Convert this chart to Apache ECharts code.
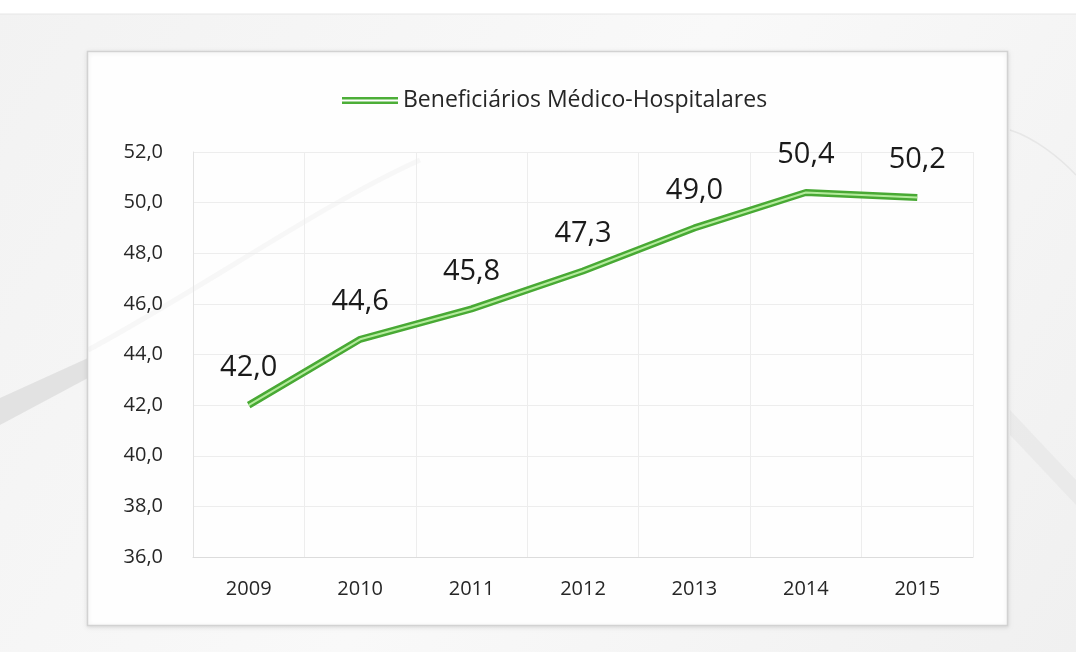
<!DOCTYPE html>
<html>
<head>
<meta charset="utf-8">
<title>Beneficiários Médico-Hospitalares</title>
<script src="https://cdn.jsdelivr.net/npm/echarts@6/dist/echarts.min.js"></script>
<style>
  html, body { margin: 0; padding: 0; background: #f4f4f4; }
  #chart { width: 1076px; height: 652px; }
</style>
</head>
<body>
<div id="chart"></div>
<script>
// Series data (millions of beneficiaries)
const years = ['2009', '2010', '2011', '2012', '2013', '2014', '2015'];
const beneficiarios = [42.0, 44.6, 45.8, 47.3, 49.0, 50.4, 50.2];
const seriesName = 'Beneficiários Médico-Hospitalares';
const yMin = 36, yMax = 52, yStep = 2;

const fmt = v => Number(v).toFixed(1).replace('.', ',');

const chart = echarts.init(document.getElementById('chart'), null, { renderer: 'canvas' });

const font = '"Open Sans", "Liberation Sans", sans-serif';

chart.setOption({
  backgroundColor: 'transparent',
  animation: false,
  graphic: [
    // slide backdrop with soft swooshes
    { type: 'rect', z: -10, shape: { x: 0, y: 0, width: 1076, height: 652 },
      style: { fill: new echarts.graphic.LinearGradient(0, 0, 1, 1, [
        { offset: 0, color: '#f2f2f2' }, { offset: 0.5, color: '#f9f9f9' }, { offset: 1, color: '#f0f0f0' }]) } },
    { type: 'rect', z: -9, shape: { x: 0, y: 0, width: 1076, height: 14 }, style: { fill: '#ffffff' } },
    { type: 'line', z: -9, shape: { x1: 0, y1: 14, x2: 1076, y2: 14 }, style: { stroke: '#e6e6e6', lineWidth: 1 } },
    { type: 'polygon', z: -9, shape: { points: [[0, 398], [88, 358], [88, 378], [0, 425]] },
      style: { fill: 'rgba(205,205,205,0.45)' } },
    { type: 'polygon', z: -9, shape: { points: [[1010, 410], [1076, 480], [1076, 505], [1010, 435]] },
      style: { fill: 'rgba(220,220,220,0.35)' } },
    { type: 'bezierCurve', z: -9, shape: { x1: 1010, y1: 130, x2: 1076, y2: 175, cpx1: 1035, cpy1: 138, cpx2: 1060, cpy2: 158 },
      style: { stroke: 'rgba(210,210,210,0.4)', lineWidth: 1.5, fill: null } },
    // chart panel
    { type: 'rect', z: -5, shape: { x: 87.5, y: 51.5, width: 920, height: 574 },
      style: { fill: 'rgba(255,255,255,0.96)', stroke: '#d2d2d2', lineWidth: 1.5,
               shadowBlur: 4, shadowColor: 'rgba(0,0,0,0.10)', shadowOffsetY: 1 } },
    // faint swoosh seen through the panel
    { type: 'bezierCurve', z: -4, shape: { x1: 88, y1: 350, x2: 420, y2: 160, cpx1: 200, cpy1: 290, cpx2: 320, cpy2: 205 },
      style: { stroke: 'rgba(215,215,215,0.18)', lineWidth: 5, fill: null } }
  ],
  legend: {
    data: [{ name: seriesName, itemStyle: { color: '#4cae38', opacity: 1 } }],
    left: 337,
    top: 84,
    itemWidth: 56,
    itemHeight: 7,
    itemGap: 8,
    icon: 'path://M0,0H56V2.6H0Z M0,4.4H56V7H0Z',
    textStyle: { color: '#262626', fontFamily: font, fontSize: 23 }
  },
  grid: { left: 193, right: 103, top: 152, bottom: 95 },
  xAxis: {
    type: 'category',
    data: years,
    boundaryGap: true,
    axisLine: { show: true, lineStyle: { color: '#dcdcdc', width: 1 } },
    axisTick: { show: false },
    splitLine: { show: true, interval: 0, lineStyle: { color: '#ededed', width: 1 } },
    axisLabel: { color: '#262626', fontFamily: font, fontSize: 20, margin: 22 }
  },
  yAxis: {
    type: 'value',
    min: yMin,
    max: yMax,
    interval: yStep,
    axisLine: { show: true, lineStyle: { color: '#e2e2e2' } },
    axisTick: { show: false },
    splitLine: { show: true, lineStyle: { color: '#ededed', width: 1 } },
    axisLabel: { color: '#262626', fontFamily: font, fontSize: 20, margin: 30, formatter: v => fmt(v) }
  },
  series: [
    {
      name: seriesName,
      type: 'line',
      data: beneficiarios,
      symbol: 'circle',
      symbolSize: 0.1,
      showSymbol: true,
      itemStyle: { color: '#4cae38' },
      lineStyle: { color: '#48a934', width: 7 },
      label: {
        show: true,
        position: 'top',
        distance: 23,
        offset: [4, 0],
        color: '#1a1a1a',
        fontFamily: font,
        fontSize: 29,
        formatter: p => fmt(p.value)
      },
      labelLayout: { hideOverlap: false },
      z: 3
    },
    {
      // pale centre stripe giving the double-line look
      name: seriesName + ' (stripe)',
      type: 'line',
      data: beneficiarios,
      symbol: 'none',
      lineStyle: { color: '#b4eb9c', width: 2 },
      silent: true,
      z: 4
    }
  ]
});
</script>
</body>
</html>
